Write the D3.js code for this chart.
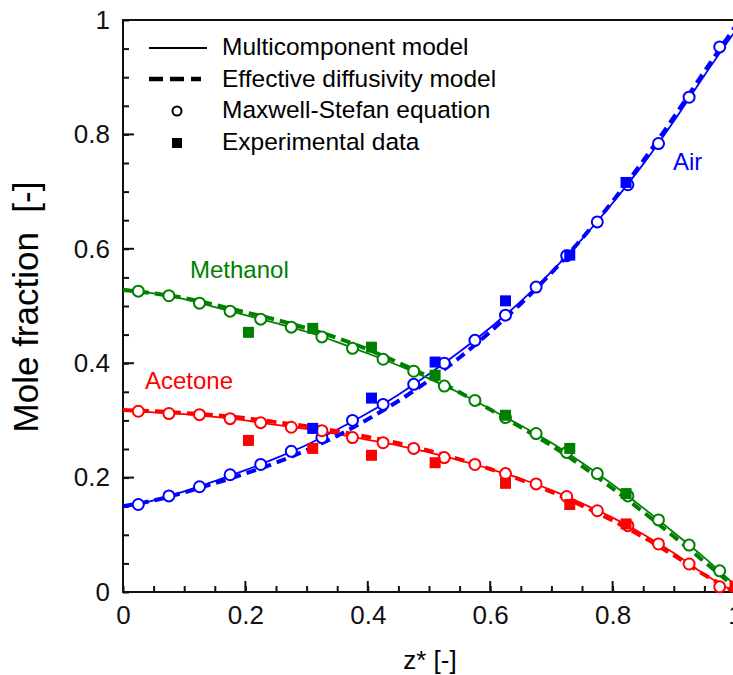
<!DOCTYPE html>
<html>
<head>
<meta charset="utf-8">
<script src="https://cdn.jsdelivr.net/npm/d3@7"></script>
<style>
  body { margin: 0; background: #fff; }
  svg { font-family: "Liberation Sans", Arial, sans-serif; }
</style>
</head>
<body>
<div class="chart"><svg></svg></div>
<script>
// model curves on a 0.05 grid
const zGrid = [0, 0.05, 0.1, 0.15, 0.2, 0.25, 0.3, 0.35, 0.4, 0.45, 0.5,
               0.55, 0.6, 0.65, 0.7, 0.75, 0.8, 0.85, 0.9, 0.95, 1];

const airMulti  = [0.148, 0.160, 0.176, 0.194, 0.213, 0.234, 0.257, 0.284, 0.313, 0.345, 0.381,
                   0.420, 0.462, 0.508, 0.560, 0.617, 0.680, 0.748, 0.823, 0.903, 0.980];
const airEff    = [0.150, 0.160, 0.174, 0.190, 0.207, 0.226, 0.248, 0.273, 0.302, 0.334, 0.370,
                   0.410, 0.455, 0.504, 0.558, 0.618, 0.683, 0.754, 0.830, 0.910, 0.988];
const methMulti = [0.530, 0.522, 0.512, 0.498, 0.484, 0.470, 0.455, 0.437, 0.417, 0.396, 0.373,
                   0.348, 0.320, 0.291, 0.261, 0.226, 0.188, 0.147, 0.104, 0.060, 0.012];
const methEff   = [0.528, 0.522, 0.514, 0.502, 0.489, 0.476, 0.461, 0.444, 0.424, 0.401, 0.376,
                   0.349, 0.319, 0.288, 0.256, 0.220, 0.181, 0.140, 0.097, 0.053, 0.008];
const aceMulti  = [0.318, 0.314, 0.311, 0.306, 0.300, 0.292, 0.285, 0.276, 0.266, 0.256, 0.244,
                   0.230, 0.215, 0.198, 0.178, 0.155, 0.130, 0.101, 0.068, 0.031, 0.000];
const aceEff    = [0.318, 0.316, 0.313, 0.309, 0.304, 0.297, 0.290, 0.281, 0.271, 0.260, 0.247,
                   0.232, 0.215, 0.196, 0.175, 0.151, 0.125, 0.096, 0.064, 0.030, 0.000];

// Maxwell-Stefan equation (open circles)
const zMS    = [0.025, 0.075, 0.125, 0.175, 0.225, 0.275, 0.325, 0.375, 0.425, 0.475,
                0.525, 0.575, 0.625, 0.675, 0.725, 0.775, 0.825, 0.875, 0.925, 0.975];
const airMS  = [0.153, 0.168, 0.184, 0.205, 0.223, 0.246, 0.270, 0.300, 0.328, 0.363,
                0.400, 0.440, 0.484, 0.533, 0.588, 0.647, 0.712, 0.784, 0.865, 0.953];
const methMS = [0.526, 0.518, 0.505, 0.491, 0.477, 0.463, 0.446, 0.426, 0.407, 0.386,
                0.360, 0.335, 0.305, 0.277, 0.244, 0.207, 0.168, 0.126, 0.082, 0.037];
const aceMS  = [0.316, 0.312, 0.310, 0.303, 0.296, 0.288, 0.282, 0.270, 0.261, 0.251,
                0.235, 0.223, 0.207, 0.189, 0.167, 0.142, 0.116, 0.084, 0.049, 0.009];

// experimental data (filled squares)
const zExp    = [0.205, 0.31, 0.406, 0.51, 0.625, 0.73, 0.822, 1.0];
const airExp  = [null, 0.286, 0.339, 0.402, 0.509, 0.589, 0.716, null];
const methExp = [0.454, 0.461, 0.428, 0.379, 0.309, 0.251, 0.172, null];
const aceExp  = [0.265, 0.251, 0.239, 0.226, 0.190, 0.153, 0.119, 0.010];

const tickVals = [0, 0.2, 0.4, 0.6, 0.8, 1];
const tickLabels = ["0", "0.2", "0.4", "0.6", "0.8", "1"];
const minorVals = d3.range(0, 1.0001, 0.05).map(d => +d.toFixed(2));

const series = [
  {name: "Air", color: "#0000ff", multi: airMulti, eff: airEff, ms: airMS, exp: airExp},
  {name: "Methanol", color: "#008000", multi: methMulti, eff: methEff, ms: methMS, exp: methExp},
  {name: "Acetone", color: "#ff0000", multi: aceMulti, eff: aceEff, ms: aceMS, exp: aceExp}
];

const width = 733, height = 675;
const svg = d3.select(".chart svg").attr("width", width).attr("height", height);

const x = d3.scaleLinear().domain([0, 1]).range([123, 735]);
const y = d3.scaleLinear().domain([0, 1]).range([592, 20]);

// frame top + right
svg.append("line").attr("x1", x(0)).attr("x2", x(1)).attr("y1", y(1)).attr("y2", y(1))
  .attr("stroke", "#111").attr("stroke-width", 2);
svg.append("line").attr("x1", x(1)).attr("x2", x(1)).attr("y1", y(0)).attr("y2", y(1))
  .attr("stroke", "#111").attr("stroke-width", 2);

// axes with inward ticks
const xMinor = d3.axisTop(x).tickValues(minorVals).tickSize(6).tickFormat("");
const xMajor = d3.axisBottom(x).tickValues(tickVals).tickSize(0).tickPadding(14)
  .tickFormat((d, i) => tickLabels[i]);
const yMinor = d3.axisRight(y).tickValues(minorVals).tickSize(6).tickFormat("");
const yMajor = d3.axisLeft(y).tickValues(tickVals).tickSize(0).tickPadding(13)
  .tickFormat((d, i) => tickLabels[i]);

function styleAxis(g){
  g.select(".domain").remove();
  g.selectAll("line").attr("stroke", "#111").attr("stroke-width", 2);
  g.selectAll("text").attr("fill", "#111").style("font-size", "26px")
    .style("font-family", "Liberation Sans, Arial, sans-serif");
}

svg.append("g").attr("transform", `translate(0,${y(0)})`).call(xMinor).call(styleAxis);
svg.append("g").attr("transform", `translate(${x(0)},0)`).call(yMinor).call(styleAxis);
svg.append("g").attr("transform", `translate(0,${y(0)})`).call(xMajor).call(styleAxis);
svg.append("g").attr("transform", `translate(${x(0)},0)`).call(yMajor).call(styleAxis);

// longer major ticks
svg.append("g").selectAll("line").data(tickVals).join("line")
  .attr("x1", d => x(d)).attr("x2", d => x(d)).attr("y1", y(0)).attr("y2", y(0) - 11)
  .attr("stroke", "#111").attr("stroke-width", 2);
svg.append("g").selectAll("line").data(tickVals).join("line")
  .attr("x1", x(0)).attr("x2", x(0) + 11).attr("y1", d => y(d)).attr("y2", d => y(d))
  .attr("stroke", "#111").attr("stroke-width", 2);

// axis lines
svg.append("line").attr("x1", x(0)).attr("x2", x(1)).attr("y1", y(0)).attr("y2", y(0))
  .attr("stroke", "#111").attr("stroke-width", 2);
svg.append("line").attr("x1", x(0)).attr("x2", x(0)).attr("y1", y(0) + 1).attr("y2", y(1) - 1)
  .attr("stroke", "#111").attr("stroke-width", 2);

// axis titles
svg.append("text").attr("transform", "translate(38,307) rotate(-90)")
  .attr("text-anchor", "middle").style("font-size", "35px").style("white-space", "pre")
  .attr("fill", "#000").text("Mole fraction  [-]");
svg.append("text").attr("x", 430).attr("y", 669).attr("text-anchor", "middle")
  .style("font-size", "26px").attr("fill", "#000").text("z* [-]");

const line = vals => d3.line()
  .x((d, i) => x(zGrid[i]))
  .y(d => y(d))
  .curve(d3.curveMonotoneX)(vals);

const plot = svg.append("g");

series.forEach(s => {
  plot.append("path").attr("d", line(s.multi))
    .attr("fill", "none").attr("stroke", s.color).attr("stroke-width", 1.8);
});
series.forEach(s => {
  plot.append("path").attr("d", line(s.eff))
    .attr("fill", "none").attr("stroke", s.color).attr("stroke-width", 4)
    .attr("stroke-dasharray", "10,6");
});
series.forEach(s => {
  plot.append("g").selectAll("circle").data(s.ms).join("circle")
    .attr("cx", (d, i) => x(zMS[i])).attr("cy", d => y(d)).attr("r", 5.5)
    .attr("fill", "#fff").attr("stroke", s.color).attr("stroke-width", 2);
});
series.forEach(s => {
  let pts = s.exp.map((v, i) => ({z: zExp[i], v: v})).filter(d => d.v !== null);
  plot.append("g").selectAll("rect").data(pts).join("rect")
    .attr("x", d => x(d.z) - 5.5).attr("y", d => y(d.v) - 5.5)
    .attr("width", 11).attr("height", 11).attr("fill", s.color);
});

// series labels
svg.append("text").attr("x", 190).attr("y", 278).style("font-size", "24px")
  .attr("fill", "#008000").text("Methanol");
svg.append("text").attr("x", 145).attr("y", 389).style("font-size", "24px")
  .attr("fill", "#ff0000").text("Acetone");
svg.append("text").attr("x", 673).attr("y", 170).style("font-size", "24px")
  .attr("fill", "#0000ff").text("Air");

// legend
const legend = svg.append("g");
const legendNames = ["Multicomponent model", "Effective diffusivity model",
                     "Maxwell-Stefan equation", "Experimental data"];
const legendY = [55, 87, 118, 150];
legend.selectAll("text").data(legendNames).join("text")
  .attr("x", 222).attr("y", (d, i) => legendY[i])
  .style("font-size", "24.5px").attr("fill", "#000").text(d => d);
legend.append("line").attr("x1", 149).attr("x2", 207).attr("y1", 48).attr("y2", 48)
  .attr("stroke", "#000").attr("stroke-width", 1.8);
legend.append("line").attr("x1", 149).attr("x2", 201).attr("y1", 79).attr("y2", 79)
  .attr("stroke", "#000").attr("stroke-width", 4.5).attr("stroke-dasharray", "14,7");
legend.append("circle").attr("cx", 177).attr("cy", 111).attr("r", 4.5)
  .attr("fill", "#fff").attr("stroke", "#000").attr("stroke-width", 2);
legend.append("rect").attr("x", 172).attr("y", 138).attr("width", 10).attr("height", 10)
  .attr("fill", "#000");
</script>
</body>
</html>
